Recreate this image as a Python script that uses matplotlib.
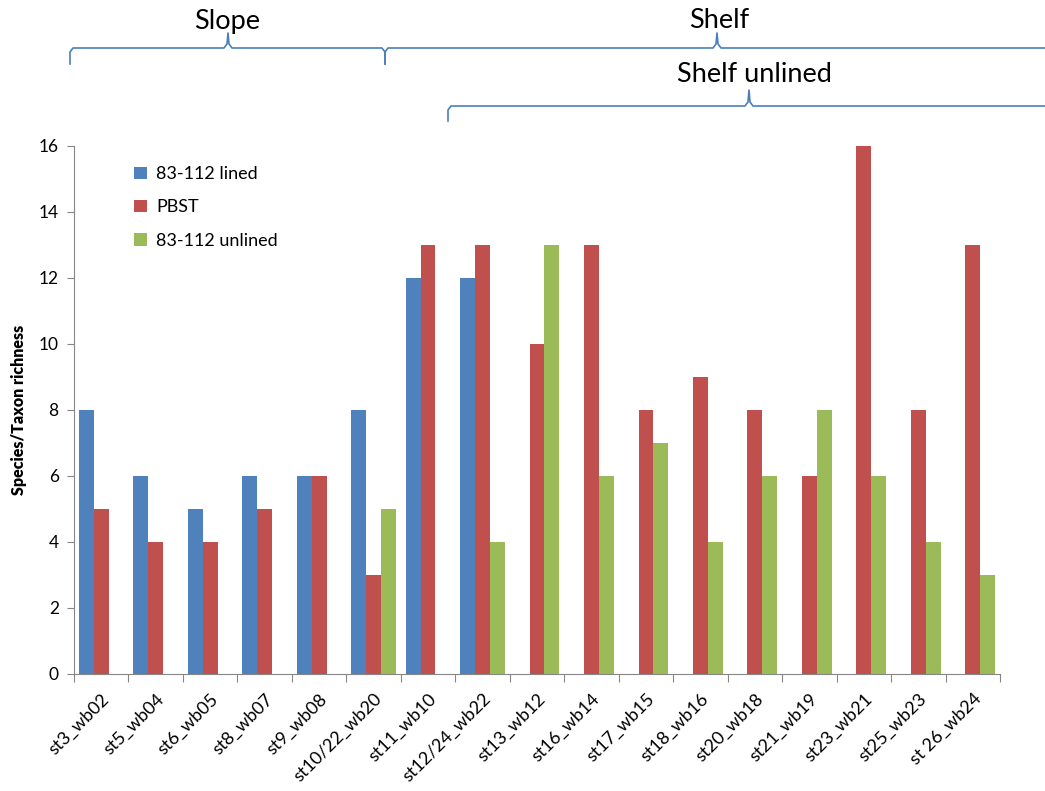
import numpy as np
import matplotlib
matplotlib.use("Agg")
import matplotlib.pyplot as plt

categories = ["st3_wb02", "st5_wb04", "st6_wb05", "st8_wb07", "st9_wb08", "st10/22_wb20",
              "st11_wb10", "st12/24_wb22", "st13_wb12", "st16_wb14", "st17_wb15", "st18_wb16",
              "st20_wb18", "st21_wb19", "st23_wb21", "st25_wb23", "st 26_wb24"]
nan = np.nan
lined = [8, 6, 5, 6, 6, 8, 12, 12, nan, nan, nan, nan, nan, nan, nan, nan, nan]
pbst = [5, 4, 4, 5, 6, 3, 13, 13, 10, 13, 8, 9, 8, 6, 16, 8, 13]
unlined = [nan, nan, nan, nan, nan, 5, nan, 4, 13, 6, 7, 4, 6, 8, 6, 4, 3]
series_names = ["83-112 lined", "PBST", "83-112 unlined"]
colors = ["#4F81BD", "#C0504D", "#9BBB59"]
yticks = [0, 2, 4, 6, 8, 10, 12, 14, 16]

plt.rcParams['font.family'] = ['Lato', 'DejaVu Sans']

W, H = 1045, 791
fig = plt.figure(figsize=(W / 100, H / 100), dpi=100)
ax = fig.add_axes([74 / W, (H - 674) / H, (1000 - 74) / W, (674 - 146) / H])

x = np.arange(len(categories))
bw = 0.272
for i, (vals, name, c) in enumerate(zip([lined, pbst, unlined], series_names, colors)):
    ax.bar(x + (i - 1) * bw, vals, width=bw, color=c, label=name, edgecolor='none')

ax.set_xlim(-0.5, len(categories) - 0.5)
ax.set_ylim(0, 16)
ax.set_yticks(yticks)
ax.tick_params(axis='y', labelsize=12.5, length=5, color='#868686', pad=6)
ax.set_xticks(np.arange(len(categories) + 1) - 0.5, minor=False)
ax.set_xticklabels([])
ax.set_xticks(x, minor=True)
ax.set_xticklabels(categories, minor=True, rotation=45, ha='right', rotation_mode='anchor', fontsize=13)
ax.tick_params(axis='x', which='major', length=6, color='#868686')
ax.tick_params(axis='x', which='minor', length=0, pad=12)
for s in ['top', 'right']:
    ax.spines[s].set_visible(False)
for s in ['left', 'bottom']:
    ax.spines[s].set_color('#868686')
ax.set_ylabel("Species/Taxon richness", fontsize=11.5, fontweight='heavy', labelpad=8)

leg = ax.legend(loc='upper left', bbox_to_anchor=(118 / W, (H - 150) / H), bbox_transform=fig.transFigure,
                frameon=False, fontsize=13, handlelength=0.7, handleheight=0.7, handletextpad=0.5,
                labelspacing=0.95)

# overlay for brackets
ov = fig.add_axes([0, 0, 1, 1])
ov.set_xlim(0, W)
ov.set_ylim(H, 0)
ov.axis('off')
bc = '#4A7EBB'

def bracket(x0, x1, xm, yb, yh, ytop, extend=False):
    pts = [(x0, yb), (x0, yh + 4), (x0 + 3, yh), (xm - 4, yh), (xm - 1, yh - 4), (xm, ytop),
           (xm + 1, yh - 4), (xm + 4, yh)]
    if extend:
        pts += [(x1, yh)]
    else:
        pts += [(x1 - 3, yh), (x1, yh + 4), (x1, yb)]
    xs, ys = zip(*pts)
    ov.plot(xs, ys, color=bc, lw=1.2)

bracket(70, 385, 228, 64, 48, 33)
bracket(385, 1050, 717, 64, 48, 33, extend=True)
bracket(448, 1050, 749, 121, 106, 90, extend=True)

ov.text(227, 21, "Slope", fontsize=19.5, ha='center', va='center')
ov.text(719, 21, "Shelf", fontsize=19.5, ha='center', va='center')
ov.text(754, 75, "Shelf unlined", fontsize=19.5, ha='center', va='center')

fig.savefig("out.png", dpi=100)
